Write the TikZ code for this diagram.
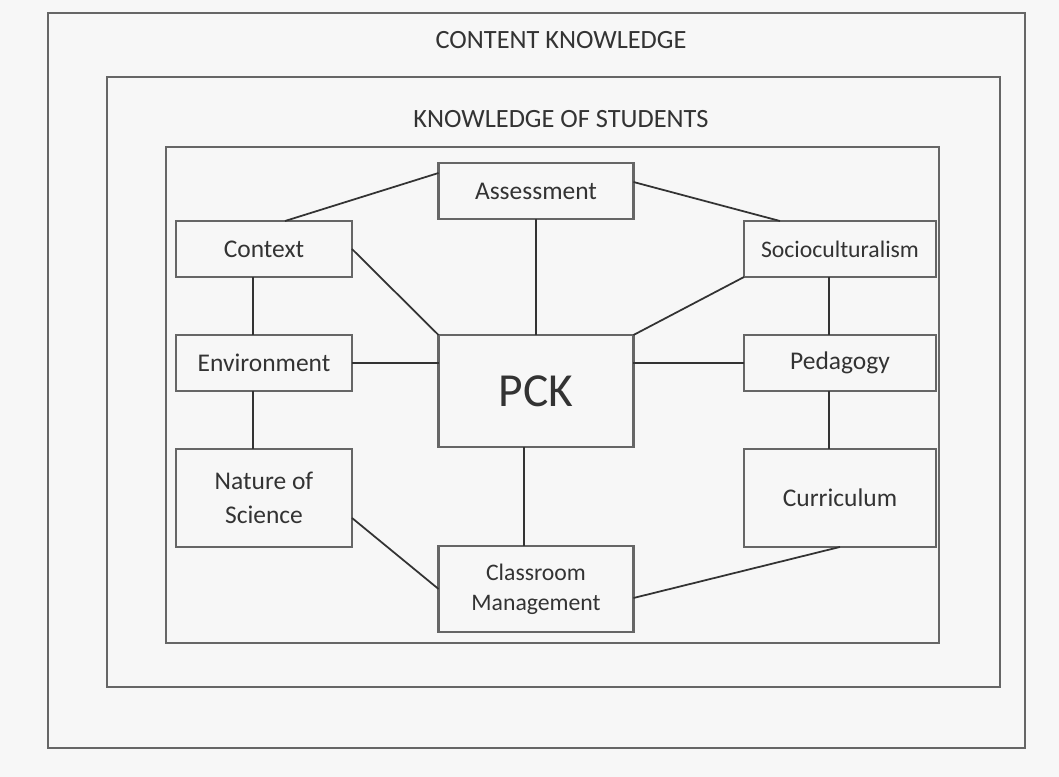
\documentclass[tikz,border=0pt]{standalone}
\usepackage{fontspec}
\setmainfont{Carlito}
\usetikzlibrary{positioning}

\begin{document}
\begin{tikzpicture}[
        x=0.02cm, y=-0.02cm,
        node distance=1.16cm and 1.7cm,
        frame/.style={draw=black!60, line width=1.4pt},
        head/.style={text=black!80, font=\fontsize{15}{18}\selectfont},
        box/.style={rectangle, draw=black!60, line width=1.3pt, text=black!80, align=center, inner sep=2pt, outer sep=0pt, font=\fontsize{14.5}{19.8}\selectfont, minimum width=3.52cm, minimum height=1.12cm},
        wide/.style={box, minimum width=3.9cm},
        link/.style={draw=black!80, line width=1pt}
    ]

    % Page and nested frames
    \useasboundingbox[fill=black!3] (0,0) rectangle (1059,777);
    \draw[frame] (48,13) rectangle (1025,748);
    \draw[frame] (107,77) rectangle (1000,687);
    \draw[frame] (166,147) rectangle (939,643);
    \node[head] (content) at (561,40) {CONTENT KNOWLEDGE};
    \node[head] (students) at (561,119) {KNOWLEDGE OF STUDENTS};

    % Centre column
    \node[wide] (assessment) at (536,191) {Assessment};
    \node[wide, minimum height=2.24cm, font=\fontsize{27}{30}\selectfont] (pck) at (536,391) {PCK};
    \node[wide, minimum height=1.72cm, font=\fontsize{13.5}{17}\selectfont] (classroom) at (536,589) {Classroom\\Management};

    % Left column
    \node[box] (context) at (264,249) {Context};
    \node[box] (environment) [below=of context] {Environment};
    \node[box, minimum height=1.96cm] (nature) [below=of environment] {Nature of\\Science};

    % Right column
    \node[box, minimum width=3.84cm, font=\fontsize{13.5}{16}\selectfont] (socio) at (840,249) {Socioculturalism};
    \node[box, minimum width=3.84cm] (pedagogy) [below=of socio] {Pedagogy};
    \node[box, minimum width=3.84cm, minimum height=1.96cm] (curriculum) [below=of pedagogy] {Curriculum};

    % Connections
    \draw[link] ([yshift=0.36cm]assessment.west) -- ([xshift=0.42cm]context.north);
    \draw[link] ([yshift=0.18cm]assessment.east) -- ([xshift=-1.2cm]socio.north);
    \draw[link] (assessment.south) -- (pck.north);
    \draw[link] (context.east) -- (pck.north west);
    \draw[link] (socio.south west) -- (pck.north east);

    \draw[link] ([xshift=-0.22cm]context.south) -- ([xshift=-0.22cm]environment.north);
    \draw[link] ([xshift=-0.22cm]environment.south) -- ([xshift=-0.22cm]nature.north);
    \draw[link] ([xshift=-0.22cm]socio.south) -- ([xshift=-0.22cm]pedagogy.north);
    \draw[link] ([xshift=-0.22cm]pedagogy.south) -- ([xshift=-0.22cm]curriculum.north);

    \draw[link] (environment.east) -- (environment.east -| pck.west);
    \draw[link] (pedagogy.west -| pck.east) -- (pedagogy.west);
    \draw[link] ([xshift=-0.24cm]pck.south) -- ([xshift=-0.24cm]classroom.north);

    \draw[link] ([yshift=-0.4cm]nature.east) -- (classroom.west);
    \draw[link] (curriculum.south) -- ([yshift=-0.18cm]classroom.east);

\end{tikzpicture}
\end{document}
